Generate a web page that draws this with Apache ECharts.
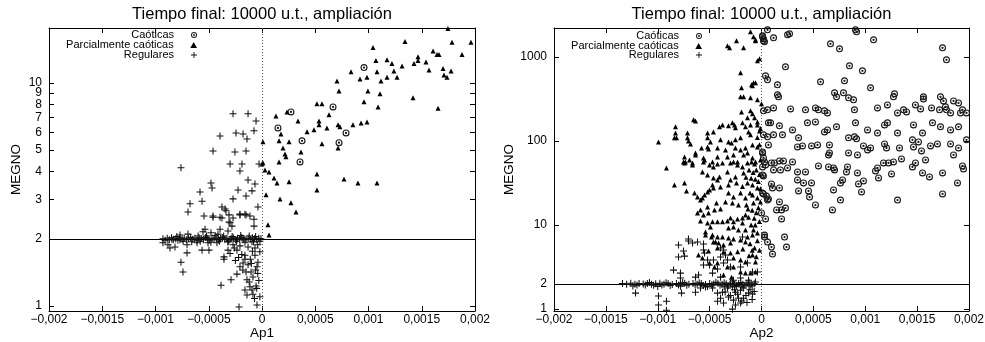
<!DOCTYPE html>
<html><head><meta charset="utf-8">
<script src="https://cdn.jsdelivr.net/npm/echarts@6/dist/echarts.min.js"></script>
<style>html,body{margin:0;padding:0;background:#fff}#c{width:985px;height:342px}</style>
</head><body><div id="c"></div>
<script>
// Ap values are given in units of 1e-4; MEGNO values as read.
const AP_UNIT = 1e-4;
const titleText = 'Tiempo final: 10000 u.t., ampliación';
const seriesNames = ['Caóticas', 'Parcialmente caóticas', 'Regulares'];
const xTickInterval = 0.0005;
// order chosen so that the first and last pairs of labels are far apart
const yTicksAp1 = [2, 1, 10, 9, 8, 7, 6, 5, 4, 3];
const yTicksAp2 = [1, 2, 10, 100, 1000];
const refLine = 2;

const ap1Caoticas = [[9.58,11.7],[6.67,7.8],[2.72,7.4],[1.5,6.28],[3.76,5.5],[7.89,5.96],[7.23,5.39],[3.57,4.42]];

const ap1Parciales = [[17.46,17.5],[13.43,15.3],[17.84,15.2],[19.62,15.2],[10.42,14.4],[16.06,13.9],[16.43,13.4],[16.62,13.4],[18.78,13.4],[14.65,13.1],[10.7,12.6],[11.74,12.7],[15.4,12.4],[14.65,12.6],[14.27,12.2],[12.2,12.2],[13.15,11.9],[8.36,11.2],[9.2,10.4],[9.86,10.6],[10.8,11.2],[11.74,10.6],[12.39,11.3],[12.68,10.6],[11.17,10.2],[7.04,10.2],[15.68,11.4],[17.0,11.6],[17.75,11.3],[17.09,10.85],[17.37,10.6],[7.23,9.2],[9.95,9.2],[11.08,8.94],[14.18,8.58],[9.58,8.22],[5.16,8.05],[5.63,8.05],[10.9,7.8],[16.53,7.7],[6.29,7.2],[1.31,7.1],[2.35,7.4],
[3.38,6.75],[5.35,6.75],[5.35,6.48],[7.14,6.48],[7.32,6.35],[6.1,6.28],[4.88,6.16],[4.23,6.03],[8.54,6.48],[9.3,6.6],[9.86,6.68],[1.78,5.9],[1.6,5.5],[2.54,5.45],[5.63,5.33],[1.97,5.11],[2.16,4.8],[2.25,4.66],[3.66,4.9],[1.6,4.42],[7.14,5.11],[0.0,4.33],[0.28,4.07],[0.66,3.99],[1.13,3.75],[1.41,3.56],[2.54,3.6],[5.16,3.9],[7.7,3.71],[9.01,3.56],[10.8,3.56],[5.16,3.31],[0.38,3.15],[1.69,3.02],[2.72,2.9],[3.19,2.64],[0.56,2.31],[0.66,2.08],[0.09,5.45],[0.09,4.38]];

const ap1Regulares = [[-2.72,7.26],[-1.31,7.26],[-0.56,6.75],[-3.94,5.78],[-2.44,5.96],[-1.78,5.9],[-1.41,5.6],[-0.75,6.1],[-4.6,4.95],[-2.54,4.9],[-1.5,4.95],[-7.61,4.16],[-3.0,4.33],[-1.88,4.33],[-2.07,4.03],[-0.28,4.33],[-1.31,3.67],[-0.66,3.52],[-4.79,3.56],[-4.69,3.38],[-5.82,3.24],[-2.25,3.31],[-0.94,3.28],[-1.5,3.11],[-2.72,3.02],
[-6.76,2.87],[-6.95,2.64],[-3.76,2.78],[-3.38,2.67],[-3.1,2.56],[-0.38,2.78],[-4.6,2.53],[-3.76,2.48],[-3.0,2.36],[-2.82,2.28],[-2.07,2.58],[-1.5,2.56],[-0.75,2.28],[-0.75,2.45],[-5.35,2.21],[-5.54,2.15],[-4.79,2.13],[-3.94,2.21],[-3.19,2.17],[-4.13,2.1],[-7.7,2.08],[-6.95,2.1],[-5.45,2.53],[-4.6,2.5],[-3.94,2.5],[-3.1,2.38],[-3.47,2.72],[-2.72,2.48],[-2.07,2.56],[-1.6,2.58],[-1.13,2.53],[-5.63,2.95],
[-9.3,2.0],[-9.1,1.97],[-8.9,2.01],[-8.7,1.98],[-8.5,2.02],[-8.3,1.99],[-8.1,2.0],[-7.9,1.97],[-7.7,2.02],[-7.5,1.99],[-7.3,2.01],[-7.1,1.98],[-6.9,2.0],[-6.7,2.03],[-6.5,1.99],[-6.3,2.01],[-6.1,1.97],[-5.9,2.02],[-5.7,2.0],[-5.5,1.98],[-5.3,2.03],[-5.1,2.0],[-4.9,1.97],[-4.7,2.01],[-4.5,1.99],[-4.3,2.02],[-4.1,1.98],[-3.9,2.0],[-3.7,2.03],[-3.5,1.99],[-3.3,2.01],[-3.1,1.97],[-2.9,2.0],[-2.7,2.02],[-2.5,1.98],[-2.3,2.01],[-2.1,1.99],[-1.9,2.03],[-1.7,2.0],[-1.5,1.98],[-1.3,2.01],[-1.1,1.99],[-0.9,2.02],[-0.7,2.0],[-0.5,1.98],[-0.3,2.01],[-0.1,2.0],[-8.0,2.05],[-6.0,2.06],[-5.2,2.06],[-4.4,2.07],[-3.6,2.06],[-2.8,2.05],[-2.0,2.07],[-1.2,2.06],[-0.6,2.05],[-7.4,1.95],[-6.6,1.94],[-5.8,1.95],[-4.8,1.93],[-4.0,1.95],[-3.2,1.94],[-2.4,1.95],[-1.6,1.93],[-0.8,1.94],[-0.2,1.95],
[-9.3,1.92],[-8.83,1.88],[-8.64,1.82],[-7.04,1.88],[-7.04,1.73],[-5.63,1.78],[-4.98,1.78],[-7.61,1.57],[-7.42,1.42],[-3.85,1.24],[-2.91,1.31],[-2.35,1.39],[-3.57,1.62],[-3.19,1.78],[-2.07,1.5],[-1.78,1.56],[-1.31,1.53],[-1.03,1.42],[-1.5,1.42],[-1.41,1.31],[-0.94,1.18],[-0.56,1.23],[-1.13,1.22],[-0.85,1.13],[-0.47,1.01],[-2.16,0.99],[-1.41,1.12],[-1.6,1.18],[-0.85,1.35],[-0.47,1.5],[-0.38,1.57],[-0.66,1.69],[-1.6,1.69],[-2.35,1.78],[-2.72,1.88],[-2.07,1.86],[-1.31,1.84],[-0.66,1.82],[-0.94,1.94],[-1.78,1.98],[-2.35,1.98],[-3.19,1.94],[-4.23,1.92],[-5.07,1.92],[-6.1,1.92],[-7.7,1.98],[-8.45,1.98],[-3.57,1.66],[-8.17,1.84],[-2.5,1.6],[-1.9,1.7],[-1.1,1.62],[-0.6,1.45],[-0.3,1.3],[-0.2,1.75],[-0.4,1.88],[-0.9,1.76],[-1.6,1.62],[-1.2,1.28],[-0.7,1.08],[-0.5,1.2],[-3.0,1.72],[-2.2,1.65],[-1.0,1.55],[-0.4,1.4],[-2.6,1.82],[-1.8,1.45],[-0.2,1.1]];

const ap2Caoticas = [[0.58,2096],[0.1,1778],[0.19,1637],[0.29,1509],[1.16,1683],[2.51,1828],[2.7,1879],[9.06,2096],[9.16,1985],[10.8,1592],[6.65,1429],[7.52,1245],[17.45,1279],[17.83,920],[2.31,760],[8.48,781],[9.73,681],[0.58,532],[5.69,504],[1.54,464],[1.54,353],[1.64,334],[8.0,518],[10.51,428],[7.04,373],[7.9,373],[7.23,334],[8.87,308],[8.39,325],[12.82,363],[12.72,334],[15.61,334],[15.61,316],[17.25,334],[17.54,299],[18.51,299],[18.99,283],[0.58,234],[1.16,247],[2.8,240],[4.24,234],[5.2,247],[5.49,234],[6.07,228],[6.36,215],[8.96,234],[11.18,247],[12.14,268],[13.11,215],[13.69,234],[13.98,221],[14.84,268],[15.33,240],[16.39,247],[17.16,234],[17.73,254],[17.83,234],[18.22,215],[19.18,215],[19.37,234],[19.76,215],
[0.87,164],[1.73,151],[2.99,135],[4.43,164],[5.2,168],[6.07,128],[6.36,135],[7.23,147],[9.06,164],[10.22,135],[11.18,124],[11.86,155],[12.14,164],[13.11,124],[14.65,155],[15.52,124],[16.48,164],[17.25,147],[18.22,135],[18.99,147],[0.19,118],[1.16,118],[2.02,118],[3.57,109],[3.95,87.2],[4.82,87.2],[5.4,89.6],[3.47,84.8],[6.55,89.6],[6.55,72],[6.46,68.1],[8.39,109],[8.96,112],[9.16,106],[8.39,72],[9.25,68.1],[9.83,87.2],[10.51,82.5],[10.22,78.1],[11.86,92.1],[12.05,82.5],[13.3,82.5],[14.65,84.8],[15.13,97.3],[15.42,76],[14.55,103],[16.29,87.2],[16.96,92.1],[18.22,92.1],[18.51,68.1],[18.99,82.5],[19.76,103],[0.29,56.2],[0.1,74],[0.96,54.7],[1.25,54.7],[1.73,57.8],[2.12,57.8],[2.99,56.2],[2.51,47.7],[1.16,45.2],[1.83,45.2],[3.47,42.8],[4.24,42.8],[5.49,50.4],[6.46,49],[6.94,47.7],[8.29,49],[8.19,42.8],[9.25,41.6],[10.99,44],[11.18,47.7],[11.76,54.7],[12.24,54.7],[12.72,56.2],[13.49,61.1],[14.84,54.7],[14.55,49],[15.81,59.4],[15.52,41.6],[17.45,41.6],[19.37,50.4],[19.47,46.4],[16.19,37.3],[12.53,40.5],[11.28,36.3],[9.83,33.4],[7.81,34.3],[7.04,45.2],[7.61,31.6],[9.35,30.8],[3.47,34.3],[4.05,31.6],[4.82,31.6],[3.57,25.4],[4.53,25.4],[4.63,21.5],[5.2,17.3],[6.94,26.1],[6.84,15.1],[7.61,19.8],[9.64,24.7],[13.11,19.8],[17.45,23.4],[18.89,31.6],[0.96,30.8],[1.06,27.6],[0.19,23.4],[0.48,22.1],[0.67,20.4],[1.73,27.6],[1.73,18.8],[1.93,15.1],[1.45,15.1],[2.31,15.9],[1.93,11.8],[0.29,7.6],[0.58,6.28],[0.96,5.47],[1.06,4.52],[2.22,7.2],[2.41,5.47],[0.1,39.4],[0.39,51.8],
[0.1,1729],[0.19,1549],[0.39,594],[0.19,228],[0.67,164],[0.58,112],[0.67,89.6],[0.1,72],[0.19,62.8],[0.1,49],[0.19,38.3],[0.58,19.8],[0.0,13.9],[0.39,11.8],[0.29,7.2],[0.1,24]];

const ap2Parciales = [[-2.41,1549],[-0.77,1729],[-0.58,1549],[-3.28,1352],[-3.08,1279],[-1.73,1279],[-0.19,946],[-2.02,645],[-0.96,464],[-0.77,490],[-1.93,428],[-2.02,334],[0.0,276],[-1.93,221],[-1.06,228],[-0.87,210],[-1.35,188],[-0.67,188],[-0.39,168],[-6.36,173],[-8.29,147],[-8.29,124],[-8.39,109],[-7.13,124],[-7.13,109],[-7.04,100],[-9.93,97.3],[-5.2,124],[-4.63,128],[-4.05,147],[-3.76,155],[-3.18,151],[-2.8,164],[-2.6,155],[-2.51,143],[-1.83,164],[-1.54,147],[-1.06,155],[-0.39,155],[-1.25,128],[-1.06,118],[-0.19,131],[-2.02,109],[-2.51,103],[-3.18,97.3],[-2.89,94.7],[-3.95,103],[-4.92,97.3],[-5.2,84.8],[-4.24,82.5],[-3.47,78.1],[-2.51,82.5],[-2.02,78.1],[-1.54,82.5],[-0.87,89.6],[-0.39,84.8],[-1.35,72],[-1.73,68.1],[-2.7,68.1],[-3.28,64.5],[-4.24,64.5],[-4.72,56.2],[-5.59,62.8],[-6.36,72],[-7.42,64.5],[-7.33,56.2],[-6.65,54.7],[-9.16,47.7],[-0.87,62.8],[-0.58,56.2],[-0.1,59.4],[-2.31,56.2],[-2.99,54.7],[-3.76,54.7],
[-7.42,54.7],[-6.65,51.8],[-5.49,59.4],[-5.01,51.8],[-4.63,49],[-4.24,53.2],[-3.28,42.8],[-2.7,56.2],[-2.31,51.8],[-1.83,49],[-1.35,54.7],[-0.96,56.2],[-0.67,53.2],[-1.73,41.6],[-2.51,37.3],[-2.99,34.3],[-4.05,37.3],[-4.63,36.3],[-5.2,39.4],[-5.69,42.8],[-8.39,29.9],[-7.42,31.6],[-7.23,25.4],[-6.46,24],[-6.17,21.5],[-5.69,21],[-5.49,22.8],[-5.01,26.1],[-4.63,27.6],[-3.95,28.3],[-3.18,29.9],[-2.41,31.6],[-1.83,28.8],[-1.35,31.6],[-0.87,29.9],[-0.39,27.6],[-3.18,24],[-2.7,21.5],[-2.02,24],[-1.54,21],[-0.87,22.8],[-0.39,21],[-0.1,18.8],[-3.47,18.8],[-2.8,18.3],[-2.22,17.3],[-1.45,17.3],[-0.77,18.3],[-4.34,18.3],[-3.95,15.5],[-4.53,15.1],[-5.2,16.4],[-5.88,15.1],[-6.17,13.9],[-5.59,13.2],[-5.11,13.9],[-5.88,11.2],[-5.2,10.6],[-4.72,10.9],[-4.24,10.9],[-3.76,10.9],[-3.28,11.2],[-2.99,12.1],[-2.7,10.9],[-2.31,11.8],[-1.83,12.1],[-1.54,13.2],[-1.25,12.4],[-1.83,10.6],[-2.7,9.47],[-3.18,9.2],[-2.22,8.72],[-1.54,8.72],[-0.77,8.72],[-0.39,8.03],[-0.87,7.6],[-1.35,7.2],[-5.4,8.25],[-4.72,7.6],[-4.24,7.2],[-3.76,7.2],[-3.18,7.0],[-2.7,6.81],[-2.02,6.63],[-1.54,6.28],[-4.63,6.28],[-4.14,6.11],[-3.66,5.78],[-2.99,6.11],[-4.24,5.32],[-3.66,4.77],[-2.99,4.64],[-2.7,4.05],[-2.02,3.83],[-1.54,3.63],[-4.24,3.53],[-5.01,3.53],[-4.53,3.16],[-3.28,3.16],[-2.7,3.16],[-2.02,2.76],[-1.54,2.68],[-1.06,2.68],[-0.58,3.63],[-0.87,4.39],[-0.67,5.32],[-0.58,2.76],[-3.66,2.54],[-2.89,2.4],
[-8.19,109],[-7.52,56.2],[-6.84,92.1],[-6.94,59.4],[-6.36,68.1],[-6.55,178],[-5.2,109],[-5.11,80.3],[-5.78,82.5],[-5.59,56.2],[-5.88,19.8],[-5.2,24.7],[-4.72,29.9],[-4.24,34.3],[-4.92,9.47],[-5.4,7.6],[-4.82,7.2],[-6.07,4.39],[-5.69,4.05],[-5.11,4.9],[-4.43,6.28],
[-1.06,1985],[-0.58,1592],[-0.39,896],[-0.58,490],[-0.87,452],[-1.73,334],[-1.06,325],[-0.39,308],
[-0.2,40],[-0.3,33],[-0.1,27],[-0.5,45],[-0.2,90],[-0.4,110],[-0.1,140],[-0.6,35],[-0.3,16],[-0.5,14],[-0.2,11],[-0.6,10],[-0.4,6.5],[-0.2,5],[-0.5,4.2],[-1.0,36],[-1.2,45],[-0.8,42],[-1.5,37],[-1.1,24],[-0.9,15],[-1.3,15.5],[-0.7,12],[-1.0,10],[-1.1,6],[-0.9,5],[-1.8,5.2],[-2.3,4.8],[-1.2,4.3]];

const ap2Regulares = [[-8.0,5.78],[-7.04,6.81],[-7.52,4.9],[-8.0,4.16],[-7.42,4.27],[-8.48,2.91],[-7.81,2.68],[-5.59,5.04],[-5.49,4.64],[-5.2,3.83],[-5.59,3.34],[-5.01,3.34],[-4.63,3.83],[-3.95,5.32],[-3.66,5.04],[-3.47,4.39],[-3.95,4.16],[-4.24,3.0],[-4.72,2.68],[-3.66,3.53],[-2.99,3.16],[-3.28,3.83],[-1.83,7.2],[-2.02,3.16],[-1.35,3.53],[-0.87,2.76],[-0.39,2.76],[-0.58,2.1],[-1.25,2.21],[-2.02,2.34],[-2.7,2.21],[-3.95,2.4],[-6.07,2.54],[-6.36,2.4],[-7.81,2.34],[-7.04,6.45],[-6.65,6.11],[-6.17,6.28],[-5.59,5.94],
[-12.14,1.55],[-9.93,1.43],[-9.16,1.24],[-7.71,1.55],[-6.36,1.59],[-5.88,1.78],[-5.4,1.83],[-4.72,1.78],[-4.24,1.55],[-3.76,1.59],[-3.28,1.78],[-2.8,1.83],[-2.51,1.59],[-2.02,1.68],[-1.73,1.78],[-1.25,1.55],[-0.87,1.51],[-3.18,1.39],[-2.7,1.28],[-2.22,1.35],[-1.73,1.35],[-2.02,1.18],[-2.51,1.12],[-4.24,1.24],[-3.95,1.35],[-3.66,1.18],[-2.8,1.0],[-9.93,1.12],[-9.16,0.97],[-3.0,1.45],[-2.3,1.5],[-1.5,1.45],[-1.1,1.7],[-0.7,1.62],[-3.5,1.6],[-2.6,1.7],[-1.9,1.25],[-1.4,1.2],[-0.9,1.3],
[-13.4,2.02],[-13.0,1.98],[-12.6,2.03],[-12.2,1.97],[-11.8,2.01],[-11.4,1.99],[-11.0,2.02],[-10.6,1.97],[-10.2,2.0],[-9.8,2.03],[-9.4,1.98],[-9.0,2.01],[-8.6,1.96],[-8.2,2.02],[-7.8,1.99],[-7.4,2.03],[-7.0,1.97],[-6.6,2.01],[-6.2,1.98],[-5.8,2.02],[-5.4,1.96],[-5.0,2.01],[-4.6,1.99],[-4.2,2.03],[-3.8,1.97],[-3.4,2.0],[-3.0,2.02],[-2.6,1.96],[-2.2,2.01],[-1.8,1.98],[-1.4,2.03],[-1.0,1.97],[-0.7,2.0],[-12.0,1.93],[-11.2,1.94],[-10.4,1.92],[-9.6,1.93],[-8.8,1.91],[-8.0,1.93],[-7.2,1.92],[-6.4,1.94],[-5.6,1.91],[-4.8,1.93],[-4.0,1.92],[-3.2,1.9],[-2.4,1.91],[-1.6,1.92],[-10.8,2.07],[-9.2,2.06],[-7.6,2.07],[-6.0,2.06],[-4.4,2.08],[-3.6,2.06],[-2.8,2.1],[-2.0,2.07],[-1.2,2.09],[-12.4,1.88],[-10.0,1.86],[-7.8,1.87],[-5.2,1.86],[-3.6,1.85],[-2.6,1.86],[-1.9,1.84],[-1.2,1.88],[-0.9,1.9]];

const FONT = '"Liberation Sans", Arial, Helvetica, sans-serif';
const lg = Math.log10;
const toPts = arr => arr.map(p => [p[0] * AP_UNIT, lg(p[1])]);

const SYM_CIRCLE = 'path://M0,-5A5,5 0 1 1 0,5A5,5 0 1 1 0,-5ZM0,-3.4A3.4,3.4 0 1 0 0,3.4A3.4,3.4 0 1 0 0,-3.4ZM0,-1.6A1.6,1.6 0 1 1 0,1.6A1.6,1.6 0 1 1 0,-1.6Z';
const SYM_TRI = 'path://M0,-4.5L5,4.5H-5Z';
const SYM_CROSS = 'path://M-0.75,-5H0.75V-0.75H5V0.75H0.75V5H-0.75V0.75H-5V-0.75H-0.75Z';

const xFmt = v => {
  if (Math.abs(v) < 1e-12) return '0';
  return String(+v.toFixed(4)).replace('.', ',').replace('-', '\u2212');
};
const yFmt = v => String(Math.round(Math.pow(10, v)));

const panels = [
  { left: 49, width: 426, yMax: 17.6, ticks: yTicksAp1, xName: 'Ap1', yGap: 26,
    data: [ap1Caoticas, ap1Parciales, ap1Regulares], legendRight: 788, legendTop: [29.5, 39.5, 49.5] },
  { left: 554, width: 415, yMax: 2200, ticks: yTicksAp2, xName: 'Ap2', yGap: 38,
    data: [ap2Caoticas, ap2Parciales, ap2Regulares], legendRight: 283, legendTop: [30.5, 40.5, 49.5] }
];
const yMin = 0.95;

const option = {
  animation: false,
  backgroundColor: '#fff',
  textStyle: { fontFamily: FONT },
  title: [], grid: [], xAxis: [], yAxis: [], series: [], legend: []
};

const tickStyle = { show: true, inside: true, length: 5, lineStyle: { color: '#000', width: 1 } };
const lineStyle = { show: true, onZero: false, lineStyle: { color: '#000', width: 1 } };

panels.forEach((p, i) => {
  option.title.push({ text: titleText, left: p.left + p.width / 2, top: 6, textAlign: 'center', padding: 0,
    textStyle: { fontSize: 16.5, fontWeight: 'normal', color: '#000', fontFamily: FONT } });
  option.grid.push({ left: p.left, top: 28, width: p.width, height: 283, containLabel: false, outerBoundsMode: 'none' });
  const ymin = lg(yMin), ymax = lg(p.yMax);
  const tv = p.ticks.map(lg);
  option.xAxis.push({ type: 'value', gridIndex: i, min: -0.002, max: 0.002, interval: xTickInterval,
    position: 'bottom', axisLine: lineStyle, axisTick: tickStyle, splitLine: { show: false },
    axisLabel: { formatter: xFmt, fontSize: 12, color: '#000', margin: 3, fontFamily: FONT },
    name: p.xName, nameLocation: 'middle', nameGap: 15, nameMoveOverlap: false,
    nameTextStyle: { fontSize: 13.5, color: '#000', fontFamily: FONT } });
  option.xAxis.push({ type: 'value', gridIndex: i, min: -0.002, max: 0.002, interval: xTickInterval,
    position: 'top', axisLine: lineStyle, axisTick: tickStyle, splitLine: { show: false },
    axisLabel: { show: false } });
  option.yAxis.push({ type: 'value', gridIndex: i, min: ymin, max: ymax, position: 'left',
    axisLine: lineStyle, axisTick: Object.assign({}, tickStyle, { customValues: tv }), splitLine: { show: false },
    axisLabel: { customValues: tv, formatter: yFmt, fontSize: 12, lineHeight: 8, color: '#000', margin: 7, fontFamily: FONT,
      interval: 0, hideOverlap: false, showMinLabel: true, showMaxLabel: true },
    name: 'MEGNO', nameLocation: 'middle', nameGap: p.yGap, nameMoveOverlap: false,
    nameTextStyle: { fontSize: 13.5, color: '#000', fontFamily: FONT } });
  option.yAxis.push({ type: 'value', gridIndex: i, min: ymin, max: ymax, position: 'right',
    axisLine: lineStyle, axisTick: Object.assign({}, tickStyle, { customValues: tv }), splitLine: { show: false },
    axisLabel: { show: false } });

  const xi = 2 * i, yi = 2 * i;
  const common = { type: 'scatter', xAxisIndex: xi, yAxisIndex: yi, silent: true };
  option.series.push(Object.assign({}, common, { name: seriesNames[0], data: toPts(p.data[0]),
    symbol: SYM_CIRCLE, symbolSize: 7, itemStyle: { color: '#1a1a1a', opacity: 1 }, z: 3 }));
  option.series.push(Object.assign({}, common, { name: seriesNames[1], data: toPts(p.data[1]),
    symbol: SYM_TRI, symbolSize: 5, itemStyle: { color: '#000', opacity: 1 }, z: 3 }));
  option.series.push(Object.assign({}, common, { name: seriesNames[2], data: toPts(p.data[2]),
    symbol: SYM_CROSS, symbolSize: 7, itemStyle: { color: '#111', opacity: 1 }, z: 3,
    markLine: { silent: true, symbol: 'none', animation: false, z: 2, label: { show: false },
      data: [
        { yAxis: lg(refLine), lineStyle: { color: '#000', width: 1, type: 'solid' } },
        { xAxis: 0, lineStyle: { color: '#555', width: 1, type: [1, 2] } }
      ] } }));

  seriesNames.forEach((n, k) => {
    option.legend.push({ data: [n], orient: 'vertical', align: 'right', right: p.legendRight, top: p.legendTop[k],
      itemWidth: 30, itemHeight: 6, padding: 0, selectedMode: false,
      textStyle: { fontSize: 11, color: '#000', fontFamily: FONT } });
  });
});

const chart = echarts.init(document.getElementById('c'), null, { renderer: 'canvas' });
chart.setOption(option);
</script>
</body></html>
